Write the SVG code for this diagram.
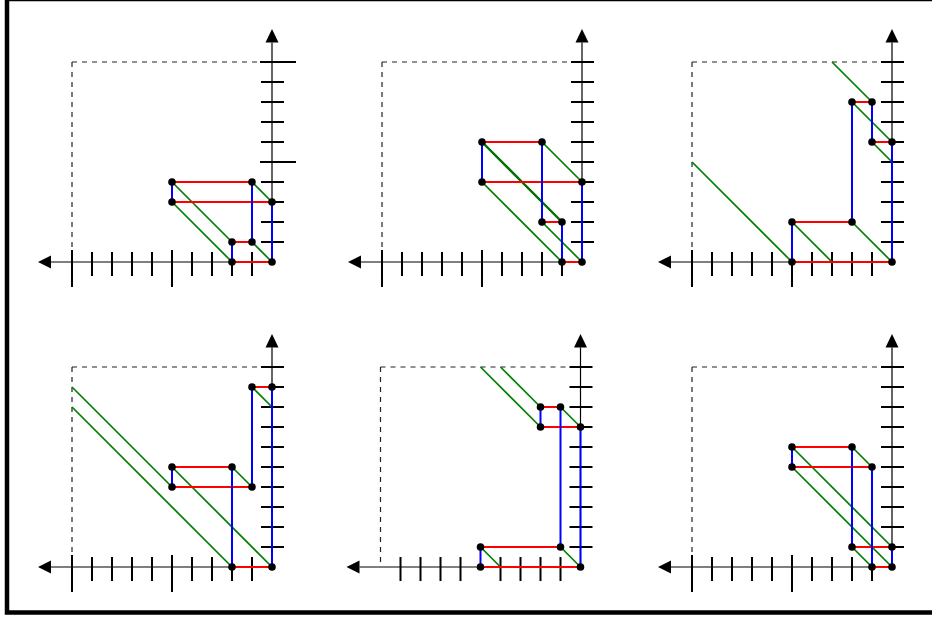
<svg xmlns="http://www.w3.org/2000/svg" width="932" height="617" viewBox="0 0 932 617">
<style>
.ax{stroke:#000;stroke-width:1.2;fill:none}
.tk{stroke:#000;stroke-width:2;fill:none}
.ds{stroke:#222;stroke-width:1.2;fill:none;stroke-dasharray:5 5}
.g{stroke:#008000;stroke-width:1.7;fill:none}
.g2{stroke:#007000;stroke-width:2.4;fill:none}
.r{stroke:#ff0000;stroke-width:2;fill:none}
.b{stroke:#0000ff;stroke-width:2;fill:none}
.d{fill:#000}
</style>
<defs>
<g id="axes">
<path class="ax" d="M-221,0H0V-219.5"/>
<polygon points="-234,0 -221,-6.5 -221,6.5" fill="#000"/>
<polygon points="0,-233 -6.5,-219.5 6.5,-219.5" fill="#000"/>
<path class="ds" d="M-200,-200H0M-200,-200V0"/>
</g>
<path id="xs" class="tk" d="M-20-10v24M-40-10v24M-60-10v24M-80-10v24M-120-10v24M-140-10v24M-160-10v24M-180-10v24"/>
<path id="xl" class="tk" d="M-100-12v37M-200-12v37"/>
<path id="ys" class="tk" d="M-11-20h23M-11-40h23M-11-60h23M-11-80h23M-11-120h23M-11-140h23M-11-160h23M-11-180h23"/>
<path id="ys2" class="tk" d="M-11-100h23M-11-200h23"/>
<path id="yl" class="tk" d="M-12-100h36M-12-200h36"/>
</defs>
<rect x="7" y="-1" width="930" height="613.5" fill="#fff" stroke="#000" stroke-width="4.5"/>

<g id="panel1" transform="translate(272,262)">
<use href="#axes"/><use href="#xs"/><use href="#xl"/><use href="#ys"/><use href="#yl"/>
<g id="p1-connectors">
<path class="g" d="M-100-80L-40-20M-100-60L-40,0M-20-80L0-60M-20-20L0,0"/>
<path class="r" d="M-100-80H-20M-100-60H0M-40-20H-20M-40,0H0"/>
<path class="b" d="M-100-80V-60M-20-80V-20M-40-20V0M0-60V0"/>
</g>
<g id="p1-nodes" class="d">
<circle cx="-100" cy="-80" r="3.8"/><circle cx="-20" cy="-80" r="3.8"/><circle cx="-100" cy="-60" r="3.8"/><circle cx="0" cy="-60" r="3.8"/>
<circle cx="-40" cy="-20" r="3.8"/><circle cx="-20" cy="-20" r="3.8"/><circle cx="-40" cy="0" r="3.8"/><circle cx="0" cy="0" r="3.8"/>
</g>
</g>

<g id="panel2" transform="translate(582,262)">
<use href="#axes"/><use href="#xs"/><use href="#xl"/><use href="#ys"/><use href="#ys2"/>
<g id="p2-connectors">
<path class="g" d="M-40-120L0-80M-100-80L-20,0M-40-40L0,0"/>
<path class="g2" d="M-100-120L-20-40"/>
<path class="r" d="M-100-120H-40M-100-80H0M-40-40H-20M-20,0H0"/>
<path class="b" d="M-100-120V-80M-40-120V-40M-20-40V0M0-80V0"/>
</g>
<g id="p2-nodes" class="d">
<circle cx="-100" cy="-120" r="3.8"/><circle cx="-40" cy="-120" r="3.8"/><circle cx="-100" cy="-80" r="3.8"/><circle cx="0" cy="-80" r="3.8"/>
<circle cx="-40" cy="-40" r="3.8"/><circle cx="-20" cy="-40" r="3.8"/><circle cx="-20" cy="0" r="3.8"/><circle cx="0" cy="0" r="3.8"/>
</g>
</g>

<g id="panel3" transform="translate(892,262)">
<use href="#axes"/><use href="#xs"/><use href="#xl"/><use href="#ys"/><use href="#ys2"/>
<g id="p3-connectors">
<path class="g" d="M-60-200L-20-160M-40-160L0-120M-20-120L0-100M-200-100L-100,0M-100-40L-60,0M-40-40L0,0"/>
<path class="r" d="M-40-160H-20M-20-120H0M-100-40H-40M-100,0H0"/>
<path class="b" d="M-40-160V-40M-20-160V-120M-100-40V0M0-120V0"/>
</g>
<g id="p3-nodes" class="d">
<circle cx="-40" cy="-160" r="3.8"/><circle cx="-20" cy="-160" r="3.8"/><circle cx="-20" cy="-120" r="3.8"/><circle cx="0" cy="-120" r="3.8"/>
<circle cx="-100" cy="-40" r="3.8"/><circle cx="-40" cy="-40" r="3.8"/><circle cx="-100" cy="0" r="3.8"/><circle cx="0" cy="0" r="3.8"/>
</g>
</g>

<g id="panel4" transform="translate(272,567)">
<use href="#axes"/><use href="#xs"/><use href="#xl"/><use href="#ys"/><use href="#ys2"/>
<g id="p4-connectors">
<path class="g" d="M-20-180L0-160M-40-100L-20-80M-200-180L-100-80M-100-100L0,0M-200-160L-40,0"/>
<path class="r" d="M-20-180H0M-100-100H-40M-100-80H-20M-40,0H0"/>
<path class="b" d="M-20-180V-80M-100-100V-80M-40-100V0M0-180V0"/>
</g>
<g id="p4-nodes" class="d">
<circle cx="-20" cy="-180" r="3.8"/><circle cx="0" cy="-180" r="3.8"/><circle cx="-100" cy="-100" r="3.8"/><circle cx="-40" cy="-100" r="3.8"/>
<circle cx="-100" cy="-80" r="3.8"/><circle cx="-20" cy="-80" r="3.8"/><circle cx="-40" cy="0" r="3.8"/><circle cx="0" cy="0" r="3.8"/>
</g>
</g>

<g id="panel5" transform="translate(580.5,567)">
<use href="#axes"/><use href="#xs"/><use href="#ys"/><use href="#ys2"/>
<g id="p5-connectors">
<path class="g" d="M-100-200L-40-140M-80-200L-40-160M-20-160L0-140M-100-20L-80,0M-20-20L0,0"/>
<path class="r" d="M-40-160H-20M-40-140H0M-100-20H-20M-100,0H0"/>
<path class="b" d="M-40-160V-140M-20-160V-20M-100-20V0M0-140V0"/>
</g>
<g id="p5-nodes" class="d">
<circle cx="-40" cy="-160" r="3.8"/><circle cx="-20" cy="-160" r="3.8"/><circle cx="-40" cy="-140" r="3.8"/><circle cx="0" cy="-140" r="3.8"/>
<circle cx="-100" cy="-20" r="3.8"/><circle cx="-20" cy="-20" r="3.8"/><circle cx="-100" cy="0" r="3.8"/><circle cx="0" cy="0" r="3.8"/>
</g>
</g>

<g id="panel6" transform="translate(892,567)">
<use href="#axes"/><use href="#xs"/><use href="#xl"/><use href="#ys"/><use href="#ys2"/>
<g id="p6-connectors">
<path class="g" d="M-40-120L-20-100M-100-120L0-20M-100-100L0,0M-40-20L-20,0"/>
<path class="r" d="M-100-120H-40M-100-100H-20M-40-20H0M-20,0H0"/>
<path class="b" d="M-100-120V-100M-40-120V-20M-20-100V0M0-20V0"/>
</g>
<g id="p6-nodes" class="d">
<circle cx="-100" cy="-120" r="3.8"/><circle cx="-40" cy="-120" r="3.8"/><circle cx="-100" cy="-100" r="3.8"/><circle cx="-20" cy="-100" r="3.8"/>
<circle cx="-40" cy="-20" r="3.8"/><circle cx="0" cy="-20" r="3.8"/><circle cx="-20" cy="0" r="3.8"/><circle cx="0" cy="0" r="3.8"/>
</g>
</g>
</svg>
